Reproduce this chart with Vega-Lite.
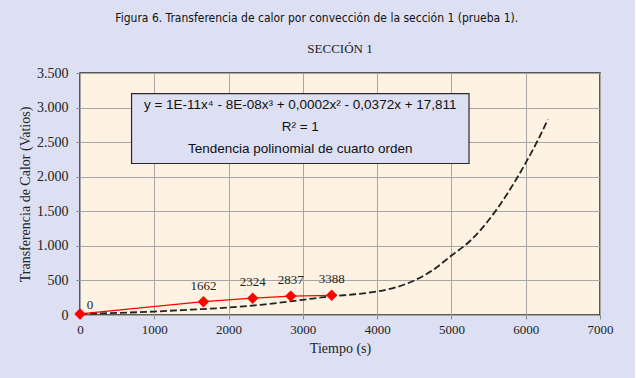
{
  "$schema": "https://vega.github.io/schema/vega-lite/v6.json",
  "background": "#DCE0F2",
  "padding": {"left": 17, "top": 12, "right": 21, "bottom": 33},
  "datasets": {
    "curve": [
      {"t": 0, "q": 15}, {"t": 500, "q": 30}, {"t": 1000, "q": 50}, {"t": 1500, "q": 78},
      {"t": 2000, "q": 108}, {"t": 2500, "q": 155}, {"t": 3000, "q": 220}, {"t": 3400, "q": 272},
      {"t": 3700, "q": 300}, {"t": 4000, "q": 340}, {"t": 4250, "q": 400}, {"t": 4500, "q": 500},
      {"t": 4750, "q": 650}, {"t": 5000, "q": 860}, {"t": 5250, "q": 1070}, {"t": 5500, "q": 1370},
      {"t": 5750, "q": 1750}, {"t": 6000, "q": 2200}, {"t": 6150, "q": 2500}, {"t": 6300, "q": 2830}
    ],
    "points": [
      {"t": 0, "q": 15, "label": "0"},
      {"t": 1662, "q": 192, "label": "1662"},
      {"t": 2324, "q": 243, "label": "2324"},
      {"t": 2837, "q": 273, "label": "2837"},
      {"t": 3388, "q": 285, "label": "3388"}
    ],
    "box": [{"t": 694, "t2": 5237, "q": 3203, "q2": 2191}],
    "eq": [
      {"t": 2965, "q": 3030, "text": "y = 1E-11x⁴ - 8E-08x³ + 0,0002x² - 0,0372x + 17,811"},
      {"t": 2965, "q": 2712, "text": "R² = 1"},
      {"t": 2965, "q": 2408, "text": "Tendencia polinomial de cuarto orden"}
    ]
  },
  "config": {
    "locale": {"number": {"decimal": ",", "thousands": ".", "grouping": [3], "currency": ["", " €"]}},
    "view": {"fill": "#FEF3E2", "stroke": "#2a2a2a", "strokeWidth": 1.5},
    "axis": {
      "labelFont": "Liberation Serif", "titleFont": "Liberation Serif",
      "labelColor": "#222", "titleColor": "#222",
      "labelFontSize": 14, "titleFontSize": 14, "titleFontWeight": "normal",
      "gridColor": "#A6A6A6", "gridWidth": 1, "gridOpacity": 1,
      "domain": false, "tickColor": "#8a8a8a", "tickSize": 4, "labelOverlap": false, "labelFlush": false
    }
  },
  "title": {
    "text": "Figura 6. Transferencia de calor por convección de la sección 1 (prueba 1).",
    "font": "DejaVu Sans Condensed, Liberation Sans", "fontSize": 12, "fontWeight": "normal",
    "color": "#111", "anchor": "middle", "offset": 17, "dx": 1
  },
  "vconcat": [
    {
      "width": 520,
      "height": 242,
      "title": {"text": "SECCIÓN 1", "font": "Liberation Serif", "fontSize": 13, "fontWeight": "normal", "color": "#222", "offset": 10},
      "encoding": {
        "x": {"field": "t", "type": "quantitative", "scale": {"domain": [0, 7000], "nice": false},
          "axis": {"values": [0, 1000, 2000, 3000, 4000, 5000, 6000, 7000], "format": "d", "title": "Tiempo (s)", "labelPadding": 4, "titlePadding": 5, "labelFontSize": 13}},
        "y": {"field": "q", "type": "quantitative", "scale": {"domain": [0, 3500], "nice": false},
          "axis": {"values": [0, 500, 1000, 1500, 2000, 2500, 3000, 3500], "format": ",d", "title": "Transferencia de Calor (Vatios)", "labelPadding": 8, "titlePadding": 4}}
      },
      "layer": [
        {
          "data": {"name": "curve"},
          "mark": {"type": "line", "color": "#222", "strokeWidth": 1.8, "strokeDash": [7, 3], "interpolate": "monotone"}
        },
        {
          "data": {"name": "points"},
          "mark": {"type": "line", "color": "#FF0000", "strokeWidth": 1.3}
        },
        {
          "data": {"name": "points"},
          "mark": {"type": "point", "shape": "diamond", "filled": true, "color": "#FF0000", "size": 130, "opacity": 1}
        },
        {
          "data": {"name": "points"},
          "transform": [{"filter": "datum.t > 0"}],
          "mark": {"type": "text", "font": "Liberation Serif", "fontSize": 13, "color": "#222", "dy": -16},
          "encoding": {"text": {"field": "label"}}
        },
        {
          "data": {"name": "points"},
          "transform": [{"filter": "datum.t == 0"}],
          "mark": {"type": "text", "font": "Liberation Serif", "fontSize": 13, "color": "#222", "dx": 10, "dy": -9},
          "encoding": {"text": {"field": "label"}}
        },
        {
          "data": {"name": "box"},
          "mark": {"type": "rect", "fill": "#DCE0F2", "stroke": "#2a2a2a", "strokeWidth": 1.2},
          "encoding": {"x2": {"field": "t2"}, "y2": {"field": "q2"}}
        },
        {
          "data": {"name": "eq"},
          "mark": {"type": "text", "font": "Liberation Sans", "fontSize": 13.5, "color": "#111"},
          "encoding": {"text": {"field": "text"}}
        }
      ]
    }
  ]
}
